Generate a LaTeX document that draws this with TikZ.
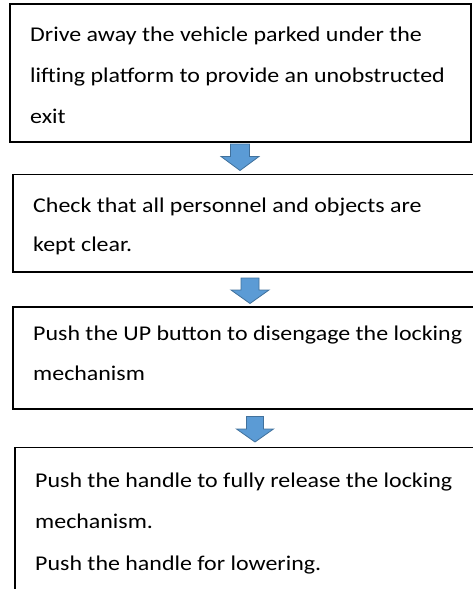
\documentclass[tikz,border=0pt]{standalone}
\usepackage{fontspec}
\setmainfont{Carlito}
\newfontfamily\boxfont{Carlito}[FakeStretch=1.14]
\usetikzlibrary{calc}
\begin{document}
\begin{tikzpicture}[x=1pt,y=-1pt,
  stepbox/.style={draw=black, line width=1.6pt, fill=white, inner sep=0pt, anchor=north west},
  steptext/.style={anchor=base west, inner sep=0pt, font=\boxfont\fontsize{21}{25}\selectfont, text=black},
  blockarrow/.style={fill=arrowfill, draw=arrowedge, line width=0.8pt, line join=miter}]
\definecolor{arrowfill}{HTML}{5B9BD5}
\definecolor{arrowedge}{HTML}{41719C}
\useasboundingbox (0,0) rectangle (472,589);
% boxes
\node[stepbox, minimum width=461pt, minimum height=138pt] (b1) at (9,3) {};
\node[stepbox, minimum width=470pt, minimum height=97.5pt] (b2) at (12,173.5) {};
\node[stepbox, minimum width=470pt, minimum height=102pt] (b3) at (12,306) {};
\node[stepbox, minimum width=470pt, minimum height=160pt] (b4) at (14,446.5) {};
% texts
\node[steptext] (t11) at (30,41.7) {Drive away the vehicle parked under the};
\node[steptext] (t12) at (30,82.5) {lifting platform to provide an unobstructed};
\node[steptext] (t13) at (30,123.5) {exit};
\node[steptext] (t21) at (33,212) {Check that all personnel and objects are};
\node[steptext] (t22) at (33,251) {kept clear.};
\node[steptext] (t31) at (33,340.5) {Push the UP button to disengage the locking};
\node[steptext] (t32) at (33,380.5) {mechanism};
\node[steptext] (t41) at (35,487.5) {Push the handle to fully release the locking};
\node[steptext] (t42) at (35,528.8) {mechanism.};
\node[steptext] (t43) at (35,570) {Push the handle for lowering.};
% arrows
\coordinate (a1) at (240,144);
\coordinate (a2) at (250,278);
\coordinate (a3) at (255,416.5);
\draw[blockarrow] ($(a1)+(-9.5,0)$) -- ++(19,0) -- ++(0,12.5) -- ++(9.5,0) -- ($(a1)+(0,26.5)$) -- ($(a1)+(-19,12.5)$) -- ++(9.5,0) -- cycle;
\draw[blockarrow] ($(a2)+(-9,0)$) -- ++(18,0) -- ++(0,12) -- ++(10,0) -- ($(a2)+(0,25.5)$) -- ($(a2)+(-19,12)$) -- ++(10,0) -- cycle;
\draw[blockarrow] ($(a3)+(-8.5,0)$) -- ++(17,0) -- ++(0,12.5) -- ++(10,0) -- ($(a3)+(0,25.5)$) -- ($(a3)+(-18.5,12.5)$) -- ++(10,0) -- cycle;
\end{tikzpicture}
\end{document}
